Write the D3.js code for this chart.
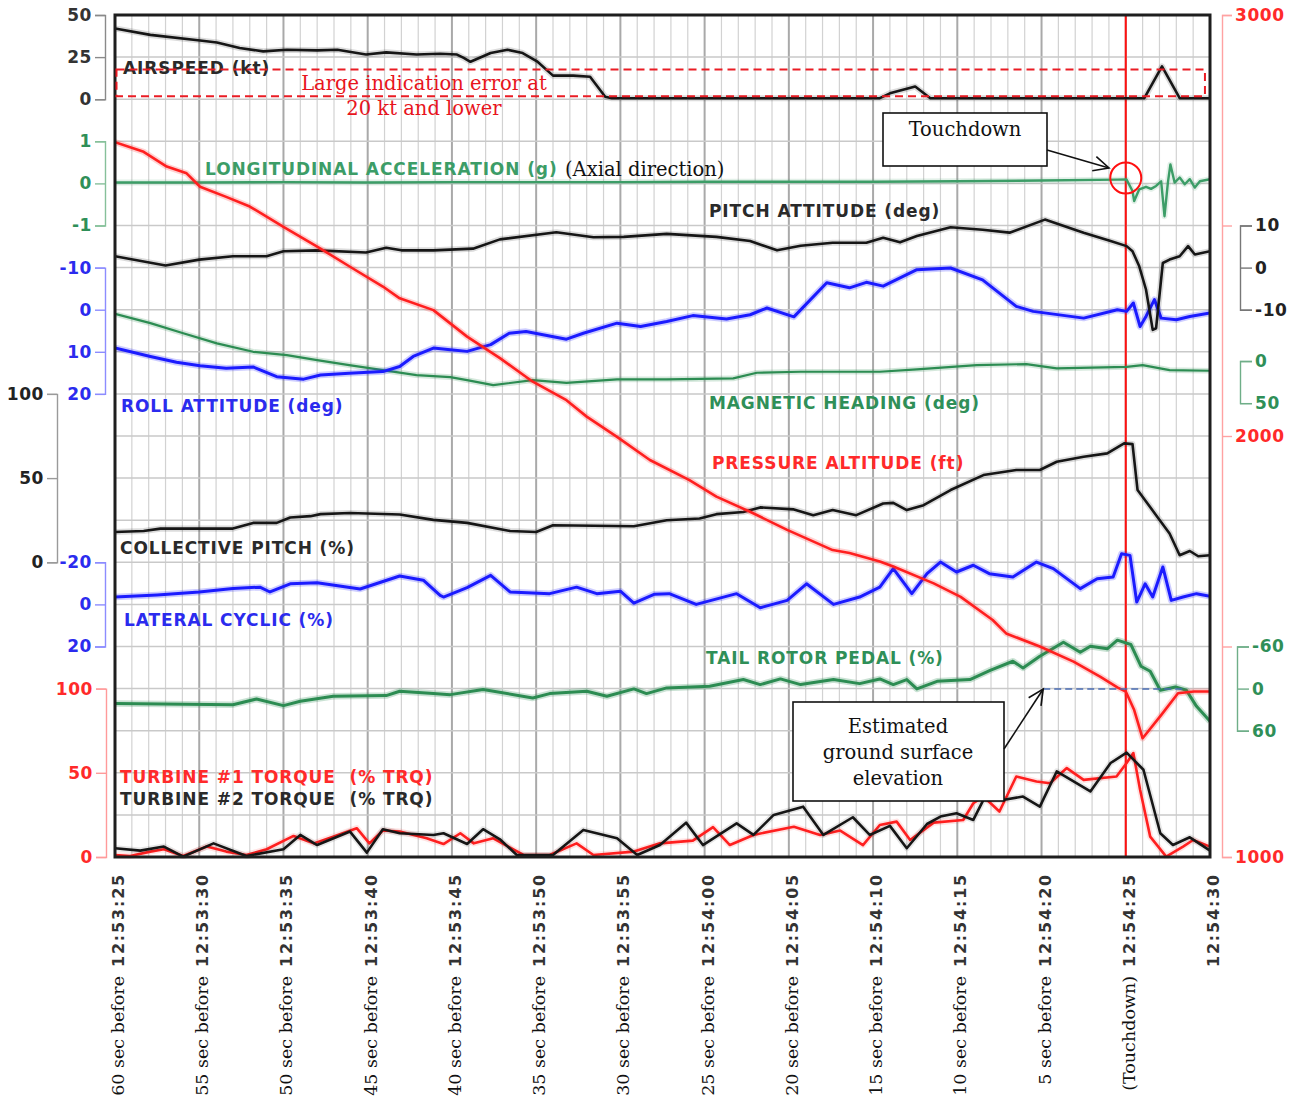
<!DOCTYPE html>
<html>
<head>
<meta charset="utf-8">
<script src="https://cdn.jsdelivr.net/npm/d3@7"></script>
<style>
  body { margin: 0; background: #fff; }
  svg { display: block; }
</style>
</head>
<body>
<svg id="chart" width="1299" height="1108"></svg>
<script>
// ---- time axis (seconds after 12:53:25) ----
const timeTicks = [0, 5, 10, 15, 20, 25, 30, 35, 40, 45, 50, 55, 60, 65];
const clockLabels = ["12:53:25", "12:53:30", "12:53:35", "12:53:40", "12:53:45", "12:53:50", "12:53:55",
                     "12:54:00", "12:54:05", "12:54:10", "12:54:15", "12:54:20", "12:54:25", "12:54:30"];
const beforeLabels = ["60 sec before", "55 sec before", "50 sec before", "45 sec before", "40 sec before",
                      "35 sec before", "30 sec before", "25 sec before", "20 sec before", "15 sec before",
                      "10 sec before", "5 sec before", "(Touchdown)", ""];
const touchdownTime = 60;

// ---- axis tick values ----
const airspeedTicks = [0, 25, 50];
const accelTicks = [-1, 0, 1];
const rollTicks = [-10, 0, 10, 20];
const collectiveTicks = [0, 50, 100];
const lateralTicks = [-20, 0, 20];
const torqueTicks = [0, 50, 100];
const altitudeTicks = [1000, 1500, 2000, 2500, 3000];
const altitudeLabelled = [1000, 2000, 3000];
const pitchTicks = [-10, 0, 10];
const headingTicks = [0, 50];
const pedalTicks = [-60, 0, 60];

// ---- recorded parameters: [seconds, value] ----
const airspeed = [[0,42],[2.1,38.2],[5.05,34.9],[6.05,33.7],[7.4,30.4],[8.8,28.4],[10.2,29.4],[12,29],[13.2,29.4],
  [14.9,26.5],[16.1,27.8],[17.9,26.5],[19.3,27],[20.3,26.5],[20.7,24.5],[21.1,22.2],[22.3,27.4],[23.3,29.4],
  [24.2,27.4],[25.05,22.5],[26,14],[27.2,14],[28.2,13.3],[29.1,1.5],[29.5,0.6],[45.4,0.6],[46,3.5],[47.5,7.5],
  [48.4,0.6],[61.1,0.6],[62.15,19.5],[63.2,0.6],[65,0.6]];

const longAccel = [[0,0.02],[5,0.02],[10,0.03],[15,0.02],[20,0.03],[25,0.03],[30,0.03],[35,0.04],[40,0.04],
  [45,0.04],[50,0.05],[55,0.07],[59.5,0.09],[60.04,0.095],[60.4,-0.18],[60.5,-0.42],[60.8,-0.14],[61.2,-0.08],
  [61.5,-0.13],[61.8,-0.06],[62.1,0.05],[62.3,-0.78],[62.5,0.02],[62.65,0.45],[62.9,0.02],[63.2,0.14],
  [63.5,-0.02],[63.8,0.1],[64.1,-0.1],[64.4,0.05],[65,0.1]];

const pitch = [[0,2.7],[3,0.5],[5,1.9],[7,2.7],[9,2.7],[10,3.9],[12,4.1],[14.9,3.6],[16.1,4.7],[17,4.1],
  [18.9,4.1],[21.25,4.5],[22.85,6.7],[26.2,8.4],[28.4,7.2],[30.2,7.3],[32.75,8.0],[35.7,7.3],[37.7,6.3],
  [39.3,4.1],[40.7,5.2],[42.6,5.9],[44.6,5.9],[45.6,7.1],[46.6,6.0],[47.6,7.5],[49.6,9.6],[51.5,9.0],
  [53.1,8.3],[55.2,11.4],[57.5,8.3],[59.1,6.3],[60.05,5.1],[60.4,3.9],[60.8,0.3],[61.2,-5.2],[61.6,-14.8],
  [61.8,-14.4],[62.2,1.1],[62.6,1.9],[63.2,2.7],[63.7,5.1],[64.1,3.1],[65,3.9]];

const roll = [[0,9.1],[2.1,11.1],[3.65,12.5],[5.05,13.3],[6.6,13.9],[8.2,13.6],[9.6,15.9],[11.2,16.5],
  [12.2,15.5],[13.9,15.1],[15.9,14.7],[16.9,13.5],[17.7,11.1],[18.9,9.1],[19.9,9.5],[20.9,9.9],[22.3,8.3],
  [23.4,5.6],[24.4,5.2],[26.8,7.0],[27.8,5.6],[29.8,3.2],[31.2,4.0],[32.75,2.8],[34.3,1.4],[36.3,2.2],
  [37.7,1.2],[38.7,-0.4],[40.3,1.7],[42.25,-6.4],[43.6,-5.2],[44.6,-6.5],[45.6,-5.6],[47.6,-9.5],[49.6,-9.9],
  [51.5,-7.1],[53.5,-0.8],[54.5,0.4],[57.5,2.0],[59.5,0],[60.05,0.4],[60.45,-1.6],[60.85,4.0],[61.2,1.6],
  [61.7,-2.4],[62.1,2.0],[63.0,2.4],[63.8,1.6],[65,0.8]];

const heading = [[0,-56],[2.1,-45],[4.05,-33],[6.05,-21],[8.2,-11],[10.2,-7],[12,-1.2],[13.9,4.8],[15.9,10.7],
  [17.9,16.7],[19.9,19],[20.9,22.6],[22.45,28.6],[24.8,22.6],[26.8,25.8],[29.8,21.8],[32.75,21.8],[36.7,20.6],
  [38.1,13.9],[40.7,12.7],[45.4,12.7],[47.6,9.9],[51.15,4.8],[54.1,3.6],[55.9,8.7],[60.05,6.8],[61,4.8],
  [62.6,10.7],[65,11.5]];

const altitude = [[0,2698],[1.7,2675],[3.07,2640],[4.25,2624],[5.05,2592],[6.6,2568],[8,2545],[10,2497],
  [12,2450],[13.95,2402],[15.9,2355],[16.9,2327],[18.9,2299],[20.9,2236],[22.85,2185],[24.8,2129],[26.8,2085],
  [28,2046],[29.8,1998],[31.75,1943],[34.1,1895],[35.7,1856],[37.7,1820],[39.9,1777],[42.6,1729],[43.6,1722],
  [45.4,1702],[46.2,1690],[48.6,1650],[50.2,1618],[52.1,1563],[52.9,1531],[54.9,1500],[56.9,1464],[58.5,1428],
  [59.5,1403],[60,1393],[60.5,1349],[61,1282],[62.1,1337],[63.1,1389],[64.05,1393],[65,1393]];
const groundElevation = 1399;
const groundMarkFrom = 55.1, groundMarkTo = 63.4;

const collective = [[0,18],[1.7,18.6],[2.7,20],[7,20],[8.2,23.4],[9.6,23.4],[10.4,26.6],[11.6,27.4],[12.2,28.6],
  [13.95,29.3],[16.9,28.4],[18.9,25.2],[20.9,23.4],[23.45,18.6],[25,18],[26,22],[30.8,21.4],[32.75,25],
  [34.7,26],[35.7,28.6],[37.3,29.9],[38.3,32.6],[40.3,31.4],[41.45,28],[42.6,31],[44,28],[45.6,34.9],
  [46.2,35.3],[47,31],[48,33.9],[49.6,42.9],[51.55,51.8],[53.5,54.8],[54.9,54.8],[55.9,59.7],[57.5,62.7],
  [58.9,64.7],[59.9,70.6],[60.4,70.2],[60.7,42.9],[61.8,28],[62.6,17.1],[63.2,4.2],[63.8,6.7],[64.3,3.6],[65,4.2]];

const lateral = [[0,-3.5],[2.5,-4.5],[5,-5.9],[7,-7.5],[8.6,-8.2],[9.2,-5.9],[10.4,-9.8],[12,-10.3],[14.55,-7.3],
  [16.9,-13.5],[18.3,-11.5],[19.3,-4.3],[19.5,-3.5],[20.9,-8],[22.3,-13.8],[23.45,-5.9],[25.8,-5.1],[27.4,-8.2],
  [28.6,-5.1],[30,-6.3],[30.8,-0.6],[32,-4.8],[32.9,-5.1],[34.5,0],[36.9,-5.1],[38.3,1.6],[39.9,-1.9],
  [41.05,-9.8],[42.65,0],[44.2,-3.5],[45.4,-8.2],[46.2,-17],[47.3,-5.1],[48.2,-14.6],[49,-20.1],[49.95,-15.4],
  [50.95,-18.6],[51.9,-14.6],[53.3,-13],[54.7,-20.1],[55.7,-17],[57.3,-7.5],[58.3,-12.2],[59.25,-13],
  [59.75,-24.1],[60.25,-23.3],[60.65,-1.1],[61.15,-9.8],[61.6,-3.5],[62.2,-17.8],[62.7,-1.9],[63.4,-3.5],
  [64.2,-5.1],[65,-3.8]];

const pedal = [[0,21.4],[7,22.9],[8.4,14.8],[10,24.3],[11,18.1],[12.95,11],[16.1,10],[16.9,3.8],[18.9,7.1],
  [19.9,8.6],[21.85,1.4],[24.8,13.3],[25.8,7.1],[28,3.8],[29.2,11],[30.8,0.4],[31.55,7.1],[32.75,-1],[35.3,-3.3],
  [37.3,-12.9],[38.3,-5.7],[39.5,-13.8],[40.7,-5.7],[42.65,-12.9],[44.2,-7.1],[45.4,-13.8],[46.2,-5.7],
  [47,-12.9],[47.6,0.4],[48.8,-10.4],[50.75,-12.9],[51.95,-26.1],[53.3,-39],[53.9,-29.5],[54.9,-46.1],
  [56.3,-66.1],[57.3,-51.9],[57.9,-60.4],[58.9,-56.7],[59.5,-69],[60.3,-62.9],[60.9,-31.9],[61.45,-24.7],
  [62.05,2.4],[62.95,-2.4],[63.6,2.4],[64.2,25.3],[65,46.7]];

const torque1 = [[0,1.2],[0.9,0.6],[2.1,3.2],[2.9,4.6],[4.05,0.6],[5.45,6.2],[6.6,3.2],[7.8,1.2],[9,4.6],
  [10.6,12.5],[11.8,8.1],[12.95,12.1],[14.35,17.1],[15.1,8.1],[15.9,15.7],[16.9,15.1],[18.5,11.1],[19.5,7.7],
  [20.5,14.1],[21.3,8.1],[22.45,11.1],[24.25,1.2],[25.8,1.2],[27.4,8.1],[28.4,1.2],[30.8,3.2],[32.35,8.1],
  [34.3,9.7],[35.5,17.7],[36.5,7.1],[37.9,13.1],[40.3,18],[41.85,13.1],[43.05,15.7],[44.4,7.1],[45.4,19],
  [46.4,21],[47.2,10.1],[48.6,20.4],[50.35,22],[50.95,31.9],[51.55,35.9],[52.5,27],[53.5,47.8],[54.7,44.8],
  [55.5,43.8],[56.5,52.8],[57.5,45.8],[59.45,47.8],[60.05,55.8],[60.45,61.7],[60.85,39.9],[61.45,12.1],
  [62.4,0.2],[63.4,6.2],[64,10.1],[65,6.2]];

const torque2 = [[0,5.2],[1.5,3.8],[2.9,6.2],[4.05,0.2],[5.85,8.1],[7.8,0.6],[10,4.6],[11,13.1],[12,7.1],
  [13.95,15.1],[14.95,2.6],[15.9,16.5],[16.9,14.1],[18.9,13.1],[19.5,14.1],[20.9,7.7],[21.85,16.5],[22.85,10.5],
  [23.85,1.2],[26,1.2],[27.8,16.1],[29.8,11.1],[31,1.2],[32.35,7.1],[33.9,20.4],[34.9,7.1],[36.9,20],[37.9,13.1],
  [39.1,25],[40.85,29.9],[42.05,13.1],[43.8,23.6],[44.8,13.1],[46,18.5],[47,5.2],[48.2,19.6],[49,24],
  [49.95,26],[50.95,22],[51.55,33.9],[52.7,33.9],[53.9,35.9],[54.9,29.9],[55.9,50.8],[57.9,38.9],[59.1,55.8],
  [60.05,62],[61.05,51.8],[62.05,14.1],[62.8,7.1],[63.8,11.7],[65,3.8]];

// ---- layout ----
const svg = d3.select("#chart");
const plot = { left: 115, right: 1210, top: 15, bottom: 857 };
const ROWS = 20;
const row = i => plot.top + (plot.bottom - plot.top) * i / ROWS;

const SANS = "'DejaVu Sans', Verdana, sans-serif";
const SERIF = "'DejaVu Serif', 'Liberation Serif', serif";

const C = {
  black: "#161616", blue: "#1b1bff", red: "#ff1f1f", green: "#2c8c52", accel: "#3c9d67",
  blueText: "#2b2bee", greenText: "#2f8f58", redText: "#ff2a2a", darkText: "#2a2a2a"
};

const x = d3.scaleLinear().domain([0, 65]).range([plot.left, plot.right]);
const yAirspeed = d3.scaleLinear().domain([0, 50]).range([row(2), row(0)]);
const yAccel = d3.scaleLinear().domain([-1, 1]).range([row(5), row(3)]);
const yPitch = d3.scaleLinear().domain([-10, 10]).range([row(7), row(5)]);
const yRoll = d3.scaleLinear().domain([-10, 20]).range([row(6), row(9)]);
const yHeading = d3.scaleLinear().domain([0, 50]).range([row(8.22), row(9.22)]);
const yAlt = d3.scaleLinear().domain([1000, 3000]).range([row(20), row(0)]);
const yColl = d3.scaleLinear().domain([0, 100]).range([row(13), row(9)]);
const yLat = d3.scaleLinear().domain([-20, 20]).range([row(13), row(15)]);
const yPedal = d3.scaleLinear().domain([-60, 60]).range([row(15), row(17)]);
const yTorque = d3.scaleLinear().domain([0, 100]).range([row(20), row(16)]);

svg.append("rect").attr("width", 1299).attr("height", 1108).attr("fill", "#fff");

// ---- grid ----
const grid = svg.append("g");
grid.selectAll("line.v").data(d3.range(1, 65)).join("line")
  .attr("x1", d => x(d)).attr("x2", d => x(d))
  .attr("y1", plot.top).attr("y2", plot.bottom)
  .attr("stroke", d => d % 5 === 0 ? "#a9a9a9" : "#d2d2d2")
  .attr("stroke-width", d => d % 5 === 0 ? 2 : 1.2);
grid.selectAll("line.h").data(d3.range(1, ROWS)).join("line")
  .attr("x1", plot.left).attr("x2", plot.right)
  .attr("y1", d => row(d)).attr("y2", d => row(d))
  .attr("stroke", "#c9c9c9").attr("stroke-width", 1.5);

// ---- axes ----
function styleAxis(g, lineColor, textColor) {
  g.attr("color", lineColor);
  g.selectAll("path.domain").attr("stroke-width", 1.4);
  g.selectAll(".tick line").attr("stroke-width", 1.4);
  g.selectAll("text").attr("fill", textColor)
    .attr("font-family", SANS).attr("font-weight", "bold")
    .attr("font-size", 17).attr("letter-spacing", 0.6);
}
function leftAxis(scale, ticks, xPos, lineColor, textColor, tickSize) {
  const g = svg.append("g").attr("transform", `translate(${xPos},0)`)
    .call(d3.axisLeft(scale).tickValues(ticks).tickFormat(d => String(d))
      .tickSize(tickSize).tickSizeOuter(tickSize).tickPadding(3));
  styleAxis(g, lineColor, textColor);
  return g;
}
function rightAxis(scale, ticks, xPos, lineColor, textColor, tickSize, fmt) {
  const g = svg.append("g").attr("transform", `translate(${xPos},0)`)
    .call(d3.axisRight(scale).tickValues(ticks).tickFormat(fmt || (d => String(d)))
      .tickSize(tickSize).tickSizeOuter(tickSize).tickPadding(3));
  styleAxis(g, lineColor, textColor);
  return g;
}

leftAxis(yAirspeed, airspeedTicks, 105, "#8a8a8a", "#333", 10);
leftAxis(yAccel, accelTicks, 105, "#86c09a", C.greenText, 10);
leftAxis(yRoll, rollTicks, 105, "#8c8cff", C.blueText, 10);
leftAxis(yColl, collectiveTicks, 57, "#9a9a9a", "#222", 10);
leftAxis(yLat, lateralTicks, 105, "#8c8cff", C.blueText, 10);
leftAxis(yTorque, torqueTicks, 106, "#ff9a9a", C.redText, 10);

rightAxis(yAlt, altitudeTicks, 1222, "#ffa2a2", C.redText, 10,
  d => altitudeLabelled.includes(d) ? String(d) : "");
rightAxis(yPitch, pitchTicks, 1240, "#777", "#222", 12);
rightAxis(yHeading, headingTicks, 1240, "#6fae88", C.greenText, 12);
rightAxis(yPedal, pedalTicks, 1237, "#6fae88", C.greenText, 12);

// ---- time labels ----
const xl = svg.append("g");
timeTicks.forEach((t, i) => {
  const txt = xl.append("text")
    .attr("transform", `translate(${x(t) + 9},873) rotate(-90)`)
    .attr("text-anchor", "end");
  if (beforeLabels[i]) {
    txt.append("tspan").attr("font-family", SERIF).attr("font-size", 17.5)
      .attr("fill", "#111").text(beforeLabels[i]);
  }
  txt.append("tspan").attr("dx", beforeLabels[i] ? 9 : 0)
    .attr("font-family", SANS).attr("font-weight", "bold").attr("font-size", 16)
    .attr("letter-spacing", 1.8).attr("fill", "#333").text(clockLabels[i]);
});

// ---- touchdown reference line ----
svg.append("line")
  .attr("x1", x(touchdownTime)).attr("x2", x(touchdownTime))
  .attr("y1", plot.top).attr("y2", plot.bottom)
  .attr("stroke", "#ff1010").attr("stroke-width", 2);

// ---- traces ----
svg.append("clipPath").attr("id", "plotClip").append("rect")
  .attr("x", plot.left).attr("y", plot.top - 2)
  .attr("width", plot.right - plot.left).attr("height", plot.bottom - plot.top + 4);
const traces = svg.append("g").attr("clip-path", "url(#plotClip)");

function trace(data, yScale, color, width, halo) {
  const line = d3.line().x(d => x(d[0])).y(d => yScale(d[1]));
  if (halo) {
    traces.append("path").attr("d", line(data)).attr("fill", "none")
      .attr("stroke", color).attr("stroke-opacity", halo)
      .attr("stroke-width", width + 3.5).attr("stroke-linejoin", "round");
  }
  traces.append("path").attr("d", line(data)).attr("fill", "none")
    .attr("stroke", color).attr("stroke-width", width)
    .attr("stroke-linejoin", "round").attr("stroke-linecap", "round");
}

trace(longAccel, yAccel, C.accel, 2.4, 0.15);
trace(heading, yHeading, C.green, 2.2, 0.2);
trace(pedal, yPedal, C.green, 3, 0.25);
trace(roll, yRoll, C.blue, 3, 0.22);
trace(lateral, yLat, C.blue, 3, 0.22);
trace(pitch, yPitch, C.black, 2.6, 0.15);
trace(collective, yColl, C.black, 2.6, 0.15);
trace(airspeed, yAirspeed, C.black, 2.6, 0.15);
trace(torque1, yTorque, C.red, 2.6, 0.12);
trace(torque2, yTorque, C.black, 2.6, 0.1);
trace(altitude, yAlt, C.red, 2.6, 0.2);

// ---- plot frame ----
svg.append("rect")
  .attr("x", plot.left).attr("y", plot.top)
  .attr("width", plot.right - plot.left).attr("height", plot.bottom - plot.top)
  .attr("fill", "none").attr("stroke", "#1e1e1e").attr("stroke-width", 3);

// ---- parameter names ----
const names = [
  ["AIRSPEED (kt)", 123, 74, C.darkText],
  ["LONGITUDINAL ACCELERATION (g)", 205, 175, C.accel],
  ["PITCH ATTITUDE (deg)", 709, 217, C.darkText],
  ["ROLL ATTITUDE (deg)", 121, 412, C.blueText],
  ["MAGNETIC HEADING (deg)", 709, 409, C.greenText],
  ["PRESSURE ALTITUDE (ft)", 712, 469, C.redText],
  ["COLLECTIVE PITCH (%)", 120, 554, C.darkText],
  ["LATERAL CYCLIC (%)", 124, 626, C.blueText],
  ["TAIL ROTOR PEDAL (%)", 706, 664, C.greenText],
  ["TURBINE #1 TORQUE\u00a0\u00a0(% TRQ)", 120, 783, C.redText],
  ["TURBINE #2 TORQUE\u00a0\u00a0(% TRQ)", 120, 805, C.darkText]
];
svg.append("g").selectAll("text").data(names).join("text")
  .attr("x", d => d[1]).attr("y", d => d[2]).attr("fill", d => d[3])
  .attr("font-family", SANS).attr("font-weight", "bold").attr("font-size", 17)
  .attr("letter-spacing", 0.9).text(d => d[0]);

svg.append("text").attr("x", 565).attr("y", 176)
  .attr("font-family", SERIF).attr("font-size", 19.5).attr("fill", "#111")
  .text("(Axial direction)");

// ---- low-airspeed band ----
const band = svg.append("g");
band.append("rect")
  .attr("x", plot.left + 1.5).attr("y", yAirspeed(17.6))
  .attr("width", x(64.7) - plot.left - 1.5).attr("height", yAirspeed(1.8) - yAirspeed(17.6))
  .attr("fill", "none").attr("stroke", "#ea1c24").attr("stroke-width", 2)
  .attr("stroke-dasharray", "8,5");
band.append("text").attr("x", 424).attr("y", 90).attr("text-anchor", "middle")
  .attr("font-family", SERIF).attr("font-size", 19.5).attr("fill", "#e8141c")
  .text("Large indication error at");
band.append("text").attr("x", 424).attr("y", 115).attr("text-anchor", "middle")
  .attr("font-family", SERIF).attr("font-size", 19.5).attr("fill", "#e8141c")
  .text("20 kt and lower");

// ---- callouts ----
function arrow(x1, y1, x2, y2) {
  const g = svg.append("g").attr("stroke", "#111").attr("stroke-width", 1.6).attr("fill", "none");
  g.append("line").attr("x1", x1).attr("y1", y1).attr("x2", x2).attr("y2", y2);
  const a = Math.atan2(y2 - y1, x2 - x1), L = 17, s = 0.45;
  g.append("path").attr("d",
    `M${x2 - L * Math.cos(a - s)},${y2 - L * Math.sin(a - s)}L${x2},${y2}L${x2 - L * Math.cos(a + s)},${y2 - L * Math.sin(a + s)}`);
}

// touchdown
svg.append("rect").attr("x", 883).attr("y", 113).attr("width", 164).attr("height", 53)
  .attr("fill", "#fff").attr("stroke", "#111").attr("stroke-width", 1.6);
svg.append("text").attr("x", 965).attr("y", 136).attr("text-anchor", "middle")
  .attr("font-family", SERIF).attr("font-size", 19.5).attr("fill", "#111").text("Touchdown");
arrow(1047, 150, 1109, 168);
svg.append("circle").attr("cx", x(touchdownTime)).attr("cy", 178).attr("r", 15.5)
  .attr("fill", "none").attr("stroke", "#ff1010").attr("stroke-width", 2);

// estimated ground surface elevation
svg.append("line")
  .attr("x1", x(groundMarkFrom)).attr("x2", x(groundMarkTo))
  .attr("y1", yAlt(groundElevation)).attr("y2", yAlt(groundElevation))
  .attr("stroke", "#4a6cb3").attr("stroke-width", 1.6).attr("stroke-dasharray", "7,4");
svg.append("rect").attr("x", 793).attr("y", 702).attr("width", 211).attr("height", 99)
  .attr("fill", "#fff").attr("stroke", "#111").attr("stroke-width", 1.6);
[["Estimated", 733], ["ground surface", 759], ["elevation", 785]].forEach(([s, yy]) => {
  svg.append("text").attr("x", 898).attr("y", yy).attr("text-anchor", "middle")
    .attr("font-family", SERIF).attr("font-size", 19.5).attr("fill", "#111").text(s);
});
arrow(1004, 749, x(groundMarkFrom), yAlt(groundElevation));
</script>
</body>
</html>
